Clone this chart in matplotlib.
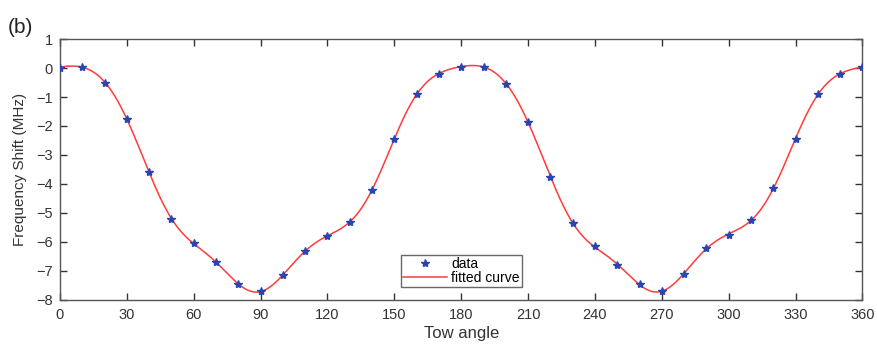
import numpy as np
import matplotlib
matplotlib.use("Agg")
import matplotlib.pyplot as plt

plt.rcParams['font.family'] = ['Liberation Sans', 'DejaVu Sans']

angles = np.arange(0, 361, 10)
shift = [0.0, 0.05, -0.5, -1.75, -3.6, -5.2, -6.05, -6.7, -7.45, -7.7,
         -7.15, -6.3, -5.8, -5.3, -4.2, -2.45, -0.9, -0.2, 0.05, 0.05,
         -0.55, -1.85, -3.75, -5.35, -6.15, -6.8, -7.45, -7.7, -7.1, -6.2,
         -5.75, -5.25, -4.15, -2.45, -0.9, -0.2, 0.05]
xticks = list(range(0, 361, 30))
yticks = list(range(-8, 2))

# least-squares Fourier fit ("fitted curve")
order = 12
th = np.deg2rad(angles)
def design(t):
    cols = [np.ones_like(t)]
    for k in range(1, order + 1):
        cols += [np.cos(k * t), np.sin(k * t)]
    return np.column_stack(cols)
coef, *_ = np.linalg.lstsq(design(th), np.array(shift), rcond=None)
xf = np.linspace(0, 360, 1441)
yf = design(np.deg2rad(xf)) @ coef

fig = plt.figure(figsize=(8.77, 3.44), dpi=100)
ax = fig.add_axes([0.0684, 0.128, 0.915, 0.7586])
ax.plot(angles, shift, linestyle='none', marker='*', markersize=6,
        color='#2b45b0', label='data', zorder=3)
ax.plot(xf, yf, color='#ff3b3b', lw=1.1, label='fitted curve', zorder=2)
ax.set_xlim(0, 360)
ax.set_ylim(-8, 1)
ax.set_xticks(xticks)
ax.set_yticks(yticks)
ax.tick_params(direction='in', top=True, right=True, length=5, width=1,
               labelsize=10.5, colors='#333333')
ax.tick_params(axis='x', pad=6)
ax.tick_params(axis='y', pad=5)
for s in ax.spines.values():
    s.set_color('#555555')
    s.set_linewidth(1)
ax.set_xlabel('Tow angle', fontsize=12, color='#333333', labelpad=3)
ax.set_ylabel('Frequency Shift (MHz)', fontsize=11, color='#333333', labelpad=7)
leg = ax.legend(loc='lower center', bbox_to_anchor=(0.5, 0.05), fontsize=10,
                frameon=True, fancybox=False, edgecolor='#444444',
                borderpad=0.15, handlelength=3.2, handletextpad=0.3,
                labelspacing=0.0, borderaxespad=0)
leg.get_frame().set_linewidth(1)
fig.text(0.009, 0.905, '(b)', fontsize=15, color='#222222')
fig.savefig('out.png', dpi=100)
